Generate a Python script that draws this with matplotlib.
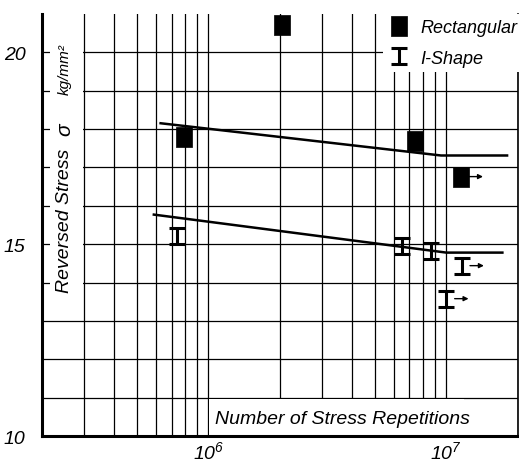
import matplotlib.pyplot as plt
import matplotlib.transforms as mtransforms
from matplotlib.path import Path
from matplotlib.patches import Rectangle
from matplotlib.ticker import FixedLocator, NullFormatter

plt.rcParams['font.family'] = ['Liberation Sans', 'DejaVu Sans']
plt.rcParams['font.style'] = 'italic'
plt.rcParams['mathtext.fontset'] = 'custom'
plt.rcParams['mathtext.rm'] = 'Liberation Sans:italic'
plt.rcParams['mathtext.it'] = 'Liberation Sans:italic'

# test results: number of repetitions and reversed stress (kg/mm2)
rect_n = [7.9e5, 2.03e6, 7.4e6, 1.15e7]
rect_s = [17.8, 20.7, 17.7, 16.76]
rect_runout = [False, False, False, True]

ishape_n = [7.4e5, 6.5e6, 8.6e6, 1.16e7, 1.0e7]
ishape_s = [15.22, 14.96, 14.83, 14.44, 13.58]
ishape_runout = [False, False, False, True, True]

# fatigue curves
rect_curve_n = [6.3e5, 9.5e6, 1.8e7]
rect_curve_s = [18.15, 17.31, 17.31]
ishape_curve_n = [5.9e5, 1.0e7, 1.72e7]
ishape_curve_s = [15.77, 14.78, 14.78]

rect_marker = [(-0.4, -0.5), (0.4, -0.5), (0.4, 0.5), (-0.4, 0.5), (-0.4, -0.5)]
ibeam_marker = Path(
    [(-0.5, 0.5), (0.5, 0.5), (0, 0.5), (0, -0.5), (-0.5, -0.5), (0.5, -0.5)],
    [Path.MOVETO, Path.LINETO, Path.MOVETO, Path.LINETO, Path.MOVETO, Path.LINETO])

fig = plt.figure(figsize=(5.19, 4.64), dpi=100)
ax = fig.add_axes([0.081, 0.058, 0.917, 0.91])
ax.set_xscale('log')
ax.set_xlim(2e5, 2e7)
ax.set_ylim(10, 21)

ax.set_xticks([1e6, 1e7])
ax.set_xticklabels([r'$10^6$', r'$10^7$'])
ax.xaxis.set_minor_formatter(NullFormatter())
ax.set_yticks([10, 15, 20])
ax.set_yticklabels(['10', '15', '20'])
ax.yaxis.set_minor_locator(FixedLocator([11, 12, 13, 14, 16, 17, 18, 19]))
ax.tick_params(which='both', length=0, labelsize=14)
ax.tick_params(axis='y', pad=12)
ax.tick_params(axis='x', pad=3)
ax.set_axisbelow(True)
ax.grid(which='both', color='black', lw=0.9)

ax.spines['top'].set_visible(False)
ax.spines['left'].set_linewidth(2.2)
ax.spines['bottom'].set_linewidth(2.2)
ax.spines['right'].set_linewidth(1.2)

# white panels behind the axis captions
ax.add_patch(Rectangle((0.017, 13.7), 0.069, 6.7, transform=ax.get_yaxis_transform(),
                       facecolor='white', edgecolor='none', zorder=1))
ax.add_patch(Rectangle((1.01e6, 10.03), 1.19e7 - 1.01e6, 0.94,
                       facecolor='white', edgecolor='none', zorder=1))

ax.plot(rect_curve_n, rect_curve_s, color='black', lw=1.8, zorder=2)
ax.plot(ishape_curve_n, ishape_curve_s, color='black', lw=1.8, zorder=2)

ax.plot(rect_n, rect_s, ls='none', marker=rect_marker, ms=15,
        mfc='black', mec='black', mew=0.5, label='Rectangular', zorder=3)
ax.plot(ishape_n, ishape_s, ls='none', marker=ibeam_marker, ms=11,
        mfc='none', mec='black', mew=2.2, label='I-Shape', zorder=3)

# run-outs: specimens that did not break
near = mtransforms.offset_copy(ax.transData, fig=fig, x=6, y=0, units='points')
far = mtransforms.offset_copy(ax.transData, fig=fig, x=16, y=0, units='points')
for n, s, r in list(zip(rect_n, rect_s, rect_runout)) + list(zip(ishape_n, ishape_s, ishape_runout)):
    if r:
        ax.annotate('', xy=(n, s), xycoords=far, xytext=(n, s), textcoords=near,
                    arrowprops=dict(arrowstyle='-|>', color='black', lw=1.0,
                                    mutation_scale=7, shrinkA=0, shrinkB=0))

ax.text(0.048, 13.76, 'Reversed Stress', transform=ax.get_yaxis_transform(),
        rotation=90, ha='center', va='bottom', fontsize=14, zorder=4)
ax.text(0.048, 18.02, 'σ', transform=ax.get_yaxis_transform(),
        rotation=90, ha='center', va='center', fontsize=15, zorder=4)
ax.text(0.048, 20.25, 'kg/mm²', transform=ax.get_yaxis_transform(),
        rotation=90, ha='center', va='top', fontsize=11, zorder=4)
ax.text(1.07e6, 10.47, 'Number of Stress Repetitions', ha='left', va='center',
        fontsize=14, zorder=4)

leg = ax.legend(loc='upper left', bbox_to_anchor=(0.716, 1.0), fontsize=13,
                frameon=True, facecolor='white', edgecolor='none', framealpha=1,
                handlelength=1.2, handletextpad=0.6, borderpad=0.3,
                labelspacing=0.75, borderaxespad=0)
leg.set_zorder(5)

fig.savefig('out.png', dpi=100)
